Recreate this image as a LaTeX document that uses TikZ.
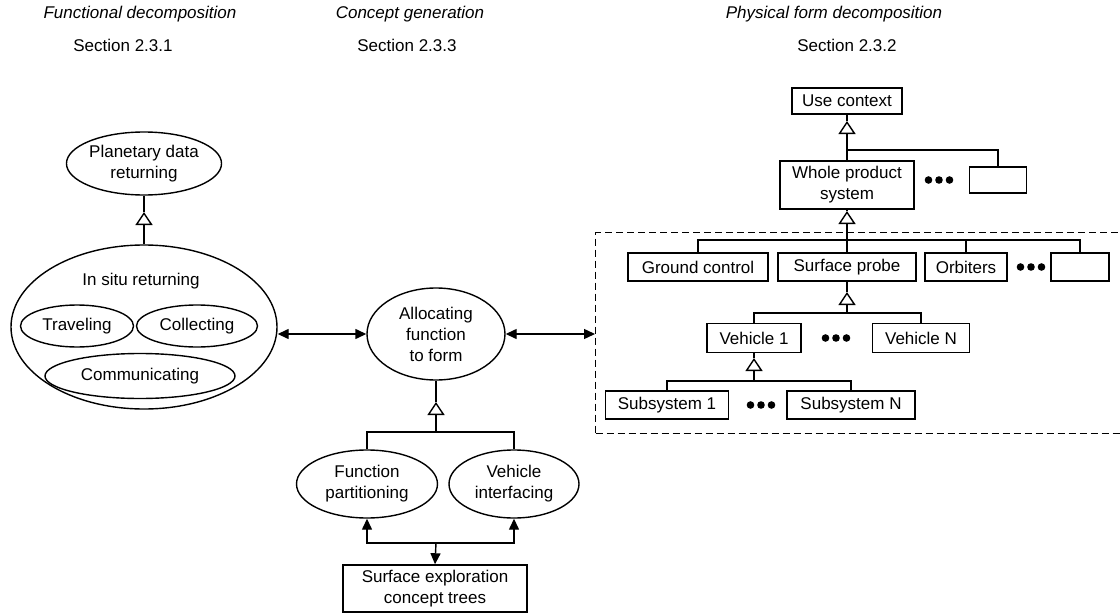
\documentclass[tikz,border=0pt]{standalone}
\usepackage{fontspec}
\setmainfont{Liberation Sans}
\usetikzlibrary{shapes.geometric,arrows.meta}
\begin{document}
\begin{tikzpicture}[x=1pt,y=-1pt,
  every node/.style={font=\fontsize{17}{21}\selectfont, align=center, inner sep=0pt},
  conn/.style={line width=1.4pt},
  ell/.style={draw, ellipse, line width=1.4pt},
  box/.style={draw, rectangle, line width=1.5pt},
  tri/.style={line width=1.4pt, -{Triangle[length=13pt,width=17pt,fill=white]}},
  arr/.style={line width=1.4pt, -{Triangle[length=11pt,width=10pt]}},
  darr/.style={line width=1.4pt, {Triangle[length=11pt,width=10pt]}-{Triangle[length=11pt,width=10pt]}},
  ttl/.style={font=\fontsize{17}{21}\selectfont\itshape},
  threedots/.pic={\foreach \dx in {-10.5,0,10.5} \fill (\dx,0) circle (3.8pt);}
]
\useasboundingbox (0,0) rectangle (1120,613);

% titles
\node[ttl] (h1) at (140,14) {Functional decomposition};
\node (s1t) at (123,45) {Section 2.3.1};
\node[ttl] (h2) at (410,14) {Concept generation};
\node (s2t) at (407,45) {Section 2.3.3};
\node[ttl] (h3) at (834,14) {Physical form decomposition};
\node (s3t) at (847,45) {Section 2.3.2};

% functional decomposition
\node[ell, minimum width=150pt, minimum height=63pt] (plan) at (144,163.5) {Planetary data\\returning};
\node[ell, minimum width=266pt, minimum height=164pt] (insitu) at (144,327) {};
\node (isr) at (141,281) {In situ returning};
\node[ell, minimum width=113pt, minimum height=42pt] (trav) at (77,326) {Traveling};
\node[ell, minimum width=121pt, minimum height=42pt] (coll) at (197,326) {Collecting};
\node[ell, minimum width=190pt, minimum height=45pt] (comm) at (140,376) {Communicating};
\coordinate (t1) at (144,212);
\draw[tri] (insitu.north) -- (t1);
\draw[conn] (t1) -- (plan.south);

% concept generation
\node[ell, minimum width=138pt, minimum height=92pt] (alloc) at (436,334) {Allocating\\function\\to form};
\node[ell, minimum width=141pt, minimum height=68pt] (func) at (367,484) {Function\\partitioning};
\node[ell, minimum width=130pt, minimum height=68pt] (vehi) at (514,484) {Vehicle\\interfacing};
\node[box, minimum width=184pt, minimum height=47pt] (surf) at (435,588.5) {Surface exploration\\concept trees};
\coordinate (t4) at (436,402);
\coordinate (b1) at (436,432);
\draw[tri] (b1) -- (t4);
\draw[conn] (t4) -- (alloc.south);
\draw[conn] (func.north) -- (func.north |- b1) -- (vehi.north |- b1) -- (vehi.north);
\coordinate (b2) at (436,543);
\draw[arr] (b2) -| (func.south);
\draw[arr] (b2) -| (vehi.south);
\draw[arr] (b2) -- (surf.north);

% physical form decomposition
\node[draw, dashed, dash pattern=on 7pt off 4pt, line width=1.1pt, minimum width=540pt, minimum height=201pt, anchor=north west] (dbox) at (595,232) {};
\node[box, minimum width=110pt, minimum height=26pt] (use) at (847,101) {Use context};
\node[box, minimum width=134pt, minimum height=48pt] (whole) at (847,185) {Whole product\\system};
\pic at (939,180) {threedots};
\node[box, minimum width=57pt, minimum height=26pt] (e1) at (998,180) {};
\coordinate (t2) at (847,121);
\draw[tri] (whole.north) -- (t2);
\draw[conn] (t2) -- (use.south);
\coordinate (j1) at (847,150);
\draw[conn] (e1.north) |- (j1);

\node[box, minimum width=140pt, minimum height=28pt] (gc) at (698,267) {Ground control};
\node[box, minimum width=138pt, minimum height=28pt] (sp) at (847,267) {Surface probe};
\node[box, minimum width=82pt, minimum height=28pt] (orb) at (966,267) {Orbiters};
\pic at (1031,267) {threedots};
\node[box, minimum width=58pt, minimum height=28pt] (e2) at (1080,267) {};
\coordinate (t3) at (847,211);
\coordinate (b3) at (847,240);
\draw[tri] (b3) -- (t3);
\draw[conn] (t3) -- (whole.south);
\draw[conn] (gc.north) |- (b3);
\draw[conn] (e2.north) |- (b3);
\draw[conn] (orb.north) -- (orb.north |- b3);
\draw[conn] (sp.north) -- (b3);

\node[box, minimum width=94pt, minimum height=29pt] (v1) at (754,338) {Vehicle 1};
\pic at (836,338) {threedots};
\node[box, minimum width=97pt, minimum height=29pt] (vn) at (921,338) {Vehicle N};
\coordinate (t5) at (847,292);
\coordinate (b4) at (847,313);
\draw[tri] (b4) -- (t5);
\draw[conn] (t5) -- (sp.south);
\draw[conn] (v1.north) |- (b4);
\draw[conn] (vn.north) |- (b4);

\node[box, minimum width=123pt, minimum height=28pt] (sub1) at (667,405) {Subsystem 1};
\pic at (761,405) {threedots};
\node[box, minimum width=128pt, minimum height=28pt] (subn) at (851,405) {Subsystem N};
\coordinate (t6) at (754,358);
\coordinate (b5) at (754,381);
\draw[tri] (b5) -- (t6);
\draw[conn] (t6) -- (v1.south);
\draw[conn] (sub1.north) |- (b5);
\draw[conn] (subn.north) |- (b5);

% main double arrows
\draw[darr] (insitu.east |- alloc.west) -- (alloc.west);
\draw[darr] (alloc.east) -- (dbox.west |- alloc.east);
\end{tikzpicture}
\end{document}
